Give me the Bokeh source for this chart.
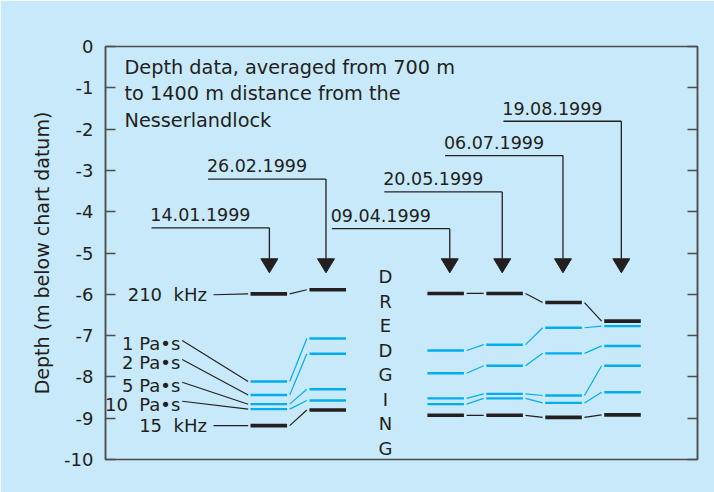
from bokeh.plotting import figure
from bokeh.models import Range1d, FixedTicker, LinearAxis
from bokeh.embed import file_html
from bokeh.resources import INLINE
from bokeh.core.properties import value

# ---------------- data ----------------
dates = ["14.01.1999", "26.02.1999", "09.04.1999", "20.05.1999", "06.07.1999", "19.08.1999"]
slots = [0, 1, 3, 4, 5, 6]                      # survey position (slot 2 = dredging)
arrow_x = [0.01, 0.97, 3.07, 3.96, 4.99, 5.98]  # where each date arrow points
date_line_y = [-4.39, -3.21, -4.41, -3.52, -2.64, -1.81]

khz210 = [-5.99, -5.89, -5.98, -5.98, -6.20, -6.65]
pas1 = [-8.11, -7.07, -7.36, -7.22, -6.81, -6.77]
pas2 = [-8.44, -7.44, -7.91, -7.73, -7.43, -7.25]
pas5 = [-8.66, -8.30, -8.52, -8.41, -8.45, -7.73]
pas10 = [-8.78, -8.57, -8.66, -8.52, -8.63, -8.37]
khz15 = [-9.18, -8.80, -8.93, -8.93, -8.98, -8.92]

series = [khz210, pas1, pas2, pas5, pas10, khz15]
series_names = ["210\u00a0 kHz", "1 Pa\u2022s", "2 Pa\u2022s", "5 Pa\u2022s", "10\u00a0 Pa\u2022s", "15\u00a0 kHz"]
series_is_khz = [True, False, False, False, False, True]
series_label_y = [-6.01, -7.12, -7.58, -8.13, -8.59, -9.18]

tick_vals = [0, -1, -2, -3, -4, -5, -6, -7, -8, -9, -10]
tick_labels = ["0", "-1", "-2", "-3", "-4", "-5", "-6", "-7", "-8", "-9", "-10"]

title_lines = ["Depth data, averaged from 700 m", "to 1400 m distance from the", "Nesserlandlock"]
dredging = list("DREDGING")
y_label = "Depth (m below chart datum)"

# ---------------- style ----------------
BG = "#c7e9f9"
INK = "#231f20"
CYAN = "#00aeef"
AX = "#4d4d4d"
FONT = value("DejaVu Sans")
HALF = 0.31
GAP = 0.045

p = figure(width=714, height=492, output_backend="svg", toolbar_location=None,
           x_range=Range1d(-2.770, 7.272), y_range=Range1d(-10, 0),
           min_border_left=105, min_border_top=46, min_border_right=17, min_border_bottom=33,
           background_fill_color=BG, border_fill_color=BG)
p.grid.visible = False
p.xaxis.visible = False
p.outline_line_color = AX
p.outline_line_width = 1.5

ya = p.yaxis[0]
ya.ticker = FixedTicker(ticks=tick_vals)
ya.major_label_overrides = {v: s for v, s in zip(tick_vals, tick_labels)}
ya.major_tick_in = 10
ya.major_tick_out = 0
ya.minor_tick_line_color = None
ya.major_tick_line_color = AX
ya.major_tick_line_width = 1.5
ya.axis_line_color = AX
ya.axis_line_width = 1.5
ya.major_label_standoff = 12
ya.major_label_text_font = "DejaVu Sans"
ya.major_label_text_font_size = "18px"
ya.major_label_text_color = INK
ya.axis_label = y_label
ya.axis_label_standoff = 8
ya.axis_label_text_font = "DejaVu Sans"
ya.axis_label_text_font_size = "19px"
ya.axis_label_text_font_style = "normal"
ya.axis_label_text_color = INK

ra = LinearAxis(ticker=FixedTicker(ticks=tick_vals), major_tick_in=10, major_tick_out=0,
                minor_tick_line_color=None, major_tick_line_color=AX, major_tick_line_width=1.5,
                axis_line_color=AX, axis_line_width=1.5, major_label_text_font_size="0px",
                major_label_text_color=None, major_label_standoff=0)
p.add_layout(ra, "right")

# survey bars and connectors
for vals, khz in zip(series, series_is_khz):
    col = INK if khz else CYAN
    lw = 3.6 if khz else 2.4
    p.segment(x0=[s - HALF for s in slots], x1=[s + HALF for s in slots], y0=vals, y1=vals,
              line_color=col, line_width=lw, line_cap="butt")
    cx0, cx1, cy0, cy1 = [], [], [], []
    for i in range(len(slots) - 1):
        if slots[i + 1] - slots[i] == 1:
            cx0.append(slots[i] + HALF + GAP)
            cx1.append(slots[i + 1] - HALF - GAP)
            cy0.append(vals[i])
            cy1.append(vals[i + 1])
    p.segment(x0=cx0, x1=cx1, y0=cy0, y1=cy1, line_color=col, line_width=1.2)

# series labels with leader lines
lab_x = [-1.05 if k else -1.50 for k in series_is_khz]
lead_x0 = [-0.938 if k else -1.469 for k in series_is_khz]
lead_x1 = [slots[0] - HALF - 0.04] * len(series)
lead_y1 = [v[0] for v in series]
p.segment(x0=lead_x0, x1=lead_x1, y0=series_label_y, y1=lead_y1, line_color=INK, line_width=1.1)
p.text(x=lab_x, y=[y - (0 if k else 0.07) for y, k in zip(series_label_y, series_is_khz)],
       text=series_names, text_font=FONT, text_font_size=value("18px"), text_align="right",
       text_baseline="middle", text_color=INK)

# date labels, lines and arrows
HEAD_TOP = -5.14
HEAD_TIP = -5.48
HEAD_HALF = 0.144
p.segment(x0=[a - 2 for a in arrow_x], x1=arrow_x, y0=date_line_y, y1=date_line_y,
          line_color=INK, line_width=1.3)
p.segment(x0=arrow_x, x1=arrow_x, y0=date_line_y, y1=[HEAD_TOP] * len(arrow_x),
          line_color=INK, line_width=1.3)
p.patches(xs=[[a - HEAD_HALF, a + HEAD_HALF, a] for a in arrow_x],
          ys=[[HEAD_TOP, HEAD_TOP, HEAD_TIP] for _ in arrow_x],
          fill_color=INK, line_color=INK, line_width=1)
p.text(x=[a - 2.02 for a in arrow_x], y=[y + 0.32 for y in date_line_y], text=dates,
       text_font=FONT, text_font_size=value("17.5px"), text_align="left",
       text_baseline="middle", text_color=INK)

# DREDGING
p.text(x=[1.98] * len(dredging), y=[-5.57 - 0.595 * i for i in range(len(dredging))],
       text=dredging, text_font=FONT, text_font_size=value("18px"), text_align="center",
       text_baseline="middle", text_color=INK)

# title block
p.text(x=[-2.448] * len(title_lines), y=[-0.508, -1.138, -1.785], text=title_lines,
       text_font=FONT, text_font_size=value("19.3px"), text_align="left",
       text_baseline="middle", text_color=INK)

open("out.html", "w").write(file_html(p, INLINE))
